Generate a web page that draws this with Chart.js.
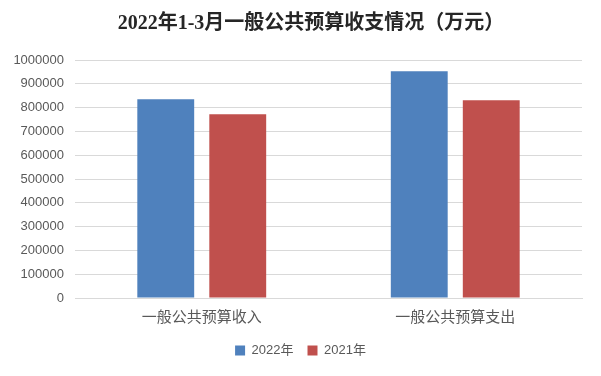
<!DOCTYPE html>
<html>
<head>
<meta charset="utf-8">
<script src="https://cdn.jsdelivr.net/npm/chart.js@4/dist/chart.umd.min.js"></script>
<style>
  body { margin: 0; background: #fff; }
  #wrap { width: 601px; height: 376px; }
</style>
</head>
<body>
<div id="wrap"><canvas id="chart" width="601" height="376"></canvas></div>
<script>
// data
const categories = ['一般公共预算收入', '一般公共预算支出'];
const seriesNames = ['2022年', '2021年'];
const values2022 = [835000, 953000];
const values2021 = [772000, 831000];
const colors = ['#4f81bd', '#c0504d'];

const titleText = '2022年1-3月一般公共预算收支情况（万元）';
const sansFont = '"Liberation Sans", "Noto Sans CJK SC", sans-serif';

// title sits a bit right of centre in the original, so draw it by hand
const titlePlugin = {
    id: 'titleDraw',
    afterDraw(chart) {
        const c = chart.ctx;
        c.save();
        c.fillStyle = '#262626';
        c.font = 'bold 20px "Liberation Serif", "Noto Sans CJK SC", serif';
        c.textAlign = 'center';
        c.textBaseline = 'middle';
        c.fillText(titleText, 311, 24);
        c.restore();
    }
};

const ctx = document.getElementById('chart').getContext('2d');
new Chart(ctx, {
    type: 'bar',
    data: {
        labels: categories,
        datasets: [
            { label: seriesNames[0], data: values2022, backgroundColor: colors[0] },
            { label: seriesNames[1], data: values2021, backgroundColor: colors[1] }
        ]
    },
    options: {
        responsive: false,
        animation: false,
        categoryPercentage: 0.568,
        barPercentage: 0.79,
        layout: { padding: { left: 0, right: 0, top: 60, bottom: 9 } },
        plugins: {
            legend: {
                position: 'bottom',
                labels: {
                    color: '#595959',
                    font: { family: sansFont, size: 13 },
                    boxWidth: 10,
                    boxHeight: 10,
                    padding: 14
                }
            },
            tooltip: { enabled: false }
        },
        scales: {
            x: {
                grid: { display: false },
                border: { color: '#d9d9d9' },
                ticks: {
                    color: '#595959',
                    font: { family: sansFont, size: 15 },
                    padding: 3
                }
            },
            y: {
                min: 0,
                max: 1000000,
                grid: { color: '#d9d9d9', drawTicks: false },
                border: { display: false },
                ticks: {
                    stepSize: 100000,
                    color: '#595959',
                    font: { family: sansFont, size: 13 },
                    padding: 11,
                    callback: v => String(v)
                },
                afterFit: scale => { scale.width = 75; }
            },
            // empty right axis, only keeps the plot clear of the right edge
            yRight: {
                position: 'right',
                grid: { display: false },
                border: { display: false },
                ticks: { display: false },
                afterFit: scale => { scale.width = 19; }
            }
        }
    },
    plugins: [titlePlugin]
});
</script>
</body>
</html>
